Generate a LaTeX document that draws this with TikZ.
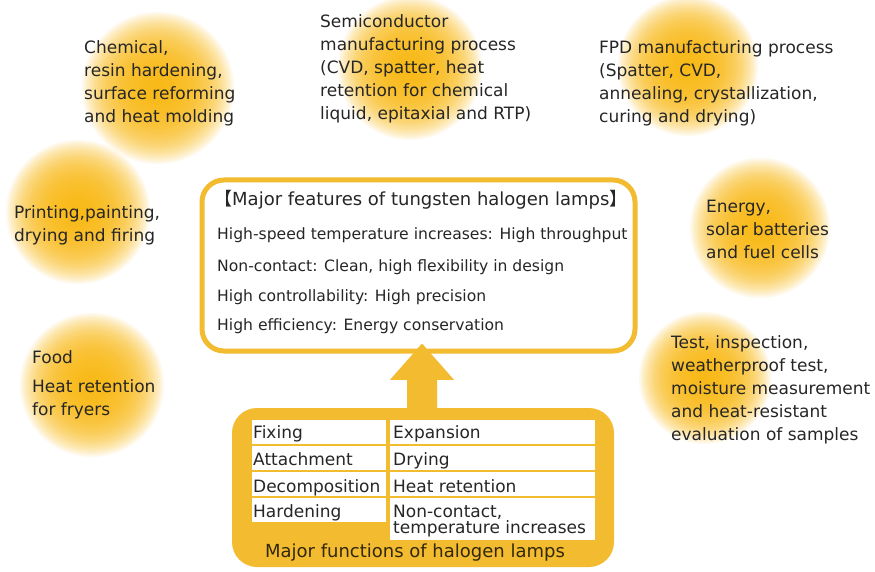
\documentclass[tikz,border=0pt]{standalone}
\usepackage{fontspec}
\setmainfont{DejaVu Sans}
\newfontfamily\cjkfont{Noto Sans CJK JP}
\usetikzlibrary{calc}
\definecolor{gold}{RGB}{248,182,14}
\definecolor{boxgold}{RGB}{243,187,48}
\definecolor{txt}{RGB}{38,38,38}
\definecolor{captxt}{RGB}{50,40,10}
\newcommand\glowblob[3]{\foreach \k in {1,...,40}{\fill[gold,opacity=0.08] (#1,#2) circle ({#3*\k/40});}}
\begin{document}
\begin{tikzpicture}[x=1pt,y=-1pt,
  lbl/.style={anchor=north west, inner sep=0pt, align=left, text=txt, font=\fontsize{17}{23}\selectfont},
  feattxt/.style={anchor=base west, inner sep=0pt, text=txt, font=\fontsize{15.6}{18}\selectfont},
  celltxt/.style={anchor=base west, inner sep=0pt, text=txt, font=\fontsize{17}{20}\selectfont},
  cellbox/.style={fill=white, draw=none}
]
\useasboundingbox (0,0) rectangle (875,572);
% glows
\glowblob{158}{88}{76}
\glowblob{410}{68}{72}
\glowblob{688}{66}{70}
\glowblob{78}{212}{72}
\glowblob{760}{228}{70}
\glowblob{92}{385}{72}
\glowblob{705}{378}{66}
% application texts
\node[lbl] (chem) at (84,40) {Chemical,\\resin hardening,\\surface reforming\\and heat molding};
\node[lbl] (semi) at (320,14) {Semiconductor\\manufacturing process\\(CVD, spatter, heat\\retention for chemical\\liquid, epitaxial and RTP)};
\node[lbl] (fpd) at (599,40) {FPD manufacturing process\\(Spatter, CVD,\\annealing, crystallization,\\curing and drying)};
\node[lbl] (print) at (14,205) {Printing,painting,\\drying and firing};
\node[lbl] (energy) at (706,200) {Energy,\\solar batteries\\and fuel cells};
\node[lbl] (food) at (32,350) {Food};
\node[lbl] (fryer) at (32,379) {Heat retention\\for fryers};
\node[lbl] (test) at (671,335) {Test, inspection,\\weatherproof test,\\moisture measurement\\and heat-resistant\\evaluation of samples};
% features box
\node[draw=boxgold, line width=5pt, rounded corners=22pt, fill=white, minimum width=433pt, minimum height=171pt, inner sep=0pt] (feat) at (418.5,265.5) {};
\node[anchor=base west, inner sep=0pt, text=txt, font=\fontsize{18}{20}\selectfont] (ftitle) at (214,206) {{\cjkfont【}Major features of tungsten halogen lamps{\cjkfont】}};
\node[feattxt] (f1) at (217,239) {High-speed temperature increases: High throughput};
\node[feattxt] (f2) at (217,271) {Non-contact: Clean, high flexibility in design};
\node[feattxt] (f3) at (217,301) {High controllability: High precision};
\node[feattxt] (f4) at (217,330) {High efficiency: Energy conservation};
% functions box
\node[fill=boxgold, rounded corners=25pt, minimum width=382pt, minimum height=159pt, inner sep=0pt] (func) at (423,487.5) {};
\fill[cellbox] (252,420) rectangle (386,444);
\fill[cellbox] (252,446) rectangle (386,470);
\fill[cellbox] (252,472) rectangle (386,496);
\fill[cellbox] (252,498) rectangle (386,522);
\fill[cellbox] (390,420) rectangle (595,444);
\fill[cellbox] (390,446) rectangle (595,470);
\fill[cellbox] (390,472) rectangle (595,496);
\fill[cellbox] (390,498) rectangle (595,540);
\node[celltxt] (c1) at (253,438) {Fixing};
\node[celltxt] (c2) at (253,465) {Attachment};
\node[celltxt] (c3) at (253,492) {Decomposition};
\node[celltxt] (c4) at (253,517) {Hardening};
\node[celltxt] (d1) at (393,438) {Expansion};
\node[celltxt] (d2) at (393,465) {Drying};
\node[celltxt] (d3) at (393,492) {Heat retention};
\node[celltxt] (d4) at (393,517) {Non-contact,};
\node[celltxt] (d5) at (393,533) {temperature increases};
\node[anchor=base, inner sep=0pt, text=captxt, font=\fontsize{18}{20}\selectfont] (cap) at (415,557) {Major functions of halogen lamps};
% arrow from functions to features
\coordinate (abase) at ($(func.north)+(-1,4)$);
\coordinate (atip) at ($(feat.south)+(3.5,-10)$);
\fill[boxgold] ($(abase)+(-15,0)$) -- ($(abase)+(-15,-32)$) -- ($(abase)+(-32,-32)$) -- (atip) -- ($(abase)+(32,-32)$) -- ($(abase)+(15,-32)$) -- ($(abase)+(15,0)$) -- cycle;
\end{tikzpicture}
\end{document}
